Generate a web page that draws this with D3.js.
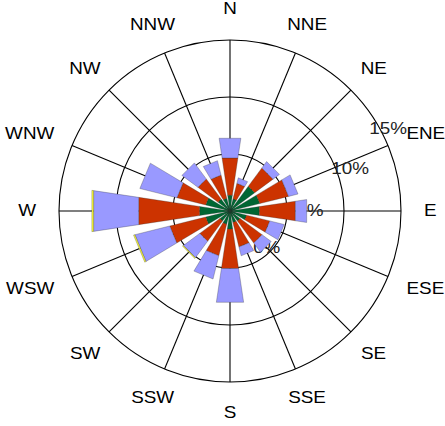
<!DOCTYPE html>
<html><head><meta charset="utf-8">
<script src="https://cdn.jsdelivr.net/npm/d3@7"></script>
<style>body{margin:0;background:#fff}svg{display:block}</style>
</head><body>
<svg id="c" width="445" height="426"></svg>
<script>
// ---- data ----
const directions = ["N","NNE","NE","ENE","E","ESE","SE","SSE","S","SSW","SW","WSW","W","WNW","NW","NNW"];
const seriesGreen    = [1.4, 1.1, 2.7, 2.7, 2.6, 1.5, 1.1, 1.05, 1.6, 1.2, 1.1, 2.2, 2.7, 2.2, 1.3, 1.15];
const seriesRed      = [3.3, 1.4, 2.0, 2.6, 3.2, 2.1, 2.4, 2.2, 3.5, 2.85, 2.2, 3.25, 5.4, 2.6, 2.2, 2.1];
const seriesLavender = [1.75, 0.5, 0.7, 0.85, 1.0, 1.3, 1.0, 0.8, 3.0, 2.1, 1.8, 3.15, 4.0, 3.35, 1.75, 1.3];
const seriesYellow   = [0, 0, 0, 0, 0, 0, 0, 0, 0, 0, 0.08, 0.12, 0.15, 0, 0, 0];
const ringValues = [5, 10, 15];
const ringLabels = ["0%", "5%", "10%", "15%"];

// ---- layout ----
const cx = 230, cy = 211, R = 171;
const svg = d3.select("#c");
const g = svg.append("g").attr("transform", `translate(${cx},${cy})`);
const r = d3.scaleLinear().domain([0, 15]).range([0, R]);
const ang = d3.scaleLinear().domain([0, directions.length]).range([0, 2 * Math.PI]);
const half = 8.5 * Math.PI / 180;
const font = "Liberation Sans, Arial, Helvetica, sans-serif";
const fs = 16, sx = 1.18;

// grid
g.selectAll("circle.ring").data(ringValues).join("circle")
  .attr("r", d => r(d)).attr("fill", "none").attr("stroke", "#000").attr("stroke-width", 1.1);
g.selectAll("line.spoke").data(directions).join("line")
  .attr("x1", 0).attr("y1", 0)
  .attr("x2", (d, i) => R * Math.sin(ang(i)))
  .attr("y2", (d, i) => -R * Math.cos(ang(i)))
  .attr("stroke", "#000").attr("stroke-width", 1.1);

// ring labels (drawn beneath bars)
const ringLabelPos = [[52, -45], [80, 0], [127.5, 19.7], [178.5, 27.7]];
g.selectAll("text.rl").data(ringLabels).join("text")
  .attr("transform", (d, i) => {
    const p = ringLabelPos[i], t = p[1] * Math.PI / 180;
    return `translate(${p[0] * Math.cos(t)},${-p[0] * Math.sin(t)}) scale(${sx},1)`;
  })
  .attr("text-anchor", "middle").attr("dominant-baseline", "central")
  .attr("font-family", font).attr("font-size", fs).attr("fill", "#222")
  .text(d => d);

// stacked bars
const layers = [
  {vals: seriesGreen, color: "#006633"},
  {vals: seriesRed, color: "#cc3300"},
  {vals: seriesLavender, color: "#9999ff"},
  {vals: seriesYellow, color: "#ffff33"}
];
const radial = d3.lineRadial().curve(d3.curveLinearClosed);
const cum = directions.map(() => 0);
layers.forEach(layer => {
  directions.forEach((d, i) => {
    const v = layer.vals[i];
    if (v <= 0) return;
    const r0 = r(cum[i]), r1 = r(cum[i] + v);
    cum[i] += v;
    const a = ang(i);
    g.append("path")
      .attr("d", radial([[a - half, r0], [a - half, r1], [a + half, r1], [a + half, r0]]))
      .attr("fill", layer.color)
      .attr("stroke", "#333").attr("stroke-opacity", 0.6).attr("stroke-width", 0.5);
  });
});

// direction labels
g.selectAll("text.dir").data(directions).join("text")
  .attr("text-anchor", "middle").attr("dominant-baseline", "central")
  .attr("font-family", font).attr("font-size", fs).attr("fill", "#000")
  .text(d => d)
  .each(function(d, i) {
    const a = ang(i);
    const hw = this.getComputedTextLength() * sx / 2;
    const rx = 194 + hw * Math.abs(Math.sin(a));
    const x = rx * Math.sin(a);
    const y = -202 * Math.cos(a);
    d3.select(this).attr("transform", `translate(${x},${y}) scale(${sx},1)`);
  });
</script>
</body></html>
